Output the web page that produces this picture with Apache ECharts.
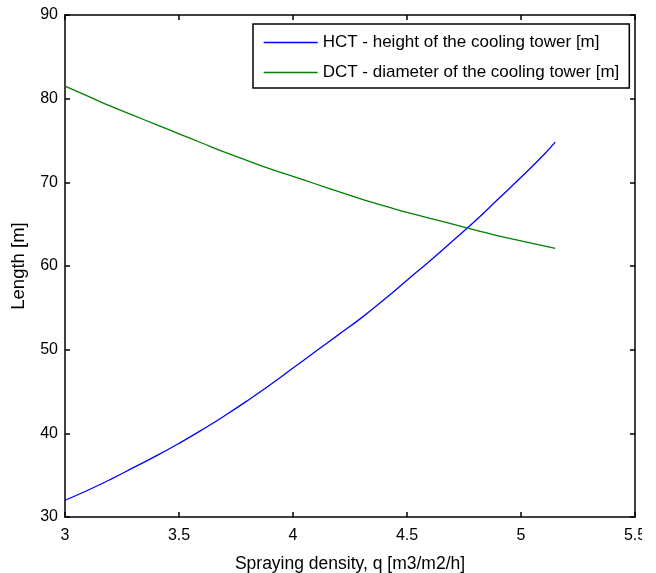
<!DOCTYPE html>
<html>
<head>
<meta charset="utf-8">
<script src="https://cdn.jsdelivr.net/npm/echarts@6/dist/echarts.min.js"></script>
<style>
html,body{margin:0;padding:0;background:#fff;}
#wrap{width:656px;height:573px;overflow:hidden;background:#fff;}
#chart{width:642px;height:573px;}
</style>
</head>
<body>
<div id="wrap"><div id="chart"></div></div>
<script>
var qValues = [3.0, 3.1, 3.2, 3.3, 3.4, 3.5, 3.6, 3.7, 3.8, 3.9, 4.0, 4.1, 4.2, 4.3, 4.4, 4.5, 4.6, 4.7, 4.8, 4.9, 5.0, 5.1, 5.15];
var hctValues = [32.0, 33.2, 34.5, 35.9, 37.3, 38.8, 40.4, 42.1, 43.9, 45.8, 47.8, 49.8, 51.8, 53.8, 56.0, 58.3, 60.6, 63.0, 65.4, 68.0, 70.6, 73.3, 74.8];
var dctValues = [81.5, 80.3, 79.1, 78.0, 76.9, 75.8, 74.7, 73.6, 72.6, 71.6, 70.7, 69.8, 68.9, 68.0, 67.2, 66.4, 65.7, 65.0, 64.3, 63.6, 63.0, 62.4, 62.1];
var seriesNames = ['HCT - height of the cooling tower [m]', 'DCT - diameter of the cooling tower [m]'];
var seriesColors = ['#0000ff', '#008000'];
var xTitle = 'Spraying density, q [m3/m2/h]';
var yTitle = 'Length [m]';

function pairs(xs, ys){ return xs.map(function(x,i){ return [x, ys[i]]; }); }

var font = 'Liberation Sans, Arial, Helvetica, sans-serif';
var axisLine = {show:true, onZero:false, lineStyle:{color:'#000', width:1.5}};
var axisTick = {show:true, inside:true, length:5, lineStyle:{color:'#000', width:1.5}};

var chart = echarts.init(document.getElementById('chart'), null, {renderer:'canvas'});
chart.setOption({
  backgroundColor:'#fff',
  animation:false,
  grid:{left:65, right:7, top:15, bottom:56, containLabel:false, outerBoundsMode:'none'},
  legend:{
    orient:'vertical', left:253, top:24,
    padding:[10,10,7,10],
    itemWidth:54, itemHeight:16, itemGap:13,
    borderColor:'#000', borderWidth:1.5, backgroundColor:'#fff',
    itemStyle:{opacity:0},
    lineStyle:{width:1.3},
    textStyle:{fontFamily:font, fontSize:17, color:'#000'},
    data:seriesNames
  },
  xAxis:[
    {type:'value', min:3, max:5.5, interval:0.5, position:'bottom',
     axisLine:axisLine, axisTick:axisTick, splitLine:{show:false},
     axisLabel:{color:'#000', fontFamily:font, fontSize:16, margin:11},
     name:xTitle, nameLocation:'middle', nameGap:38,
     nameTextStyle:{color:'#000', fontFamily:font, fontSize:17.5}},
    {type:'value', min:3, max:5.5, interval:0.5, position:'top',
     axisLine:axisLine, axisTick:axisTick, splitLine:{show:false},
     axisLabel:{show:false}}
  ],
  yAxis:[
    {type:'value', min:30, max:90, interval:10, position:'left',
     axisLine:axisLine, axisTick:axisTick, splitLine:{show:false},
     axisLabel:{color:'#000', fontFamily:font, fontSize:16, margin:7},
     name:yTitle, nameLocation:'middle', nameGap:37,
     nameTextStyle:{color:'#000', fontFamily:font, fontSize:18.5}},
    {type:'value', min:30, max:90, interval:10, position:'right',
     axisLine:axisLine, axisTick:axisTick, splitLine:{show:false},
     axisLabel:{show:false}}
  ],
  series:[
    {name:seriesNames[0], type:'line', data:pairs(qValues, hctValues), symbol:'none', smooth:true,
     lineStyle:{color:seriesColors[0], width:1.3}, itemStyle:{color:seriesColors[0]}},
    {name:seriesNames[1], type:'line', data:pairs(qValues, dctValues), symbol:'none', smooth:true,
     lineStyle:{color:seriesColors[1], width:1.3}, itemStyle:{color:seriesColors[1]}}
  ]
});
</script>
</body>
</html>
